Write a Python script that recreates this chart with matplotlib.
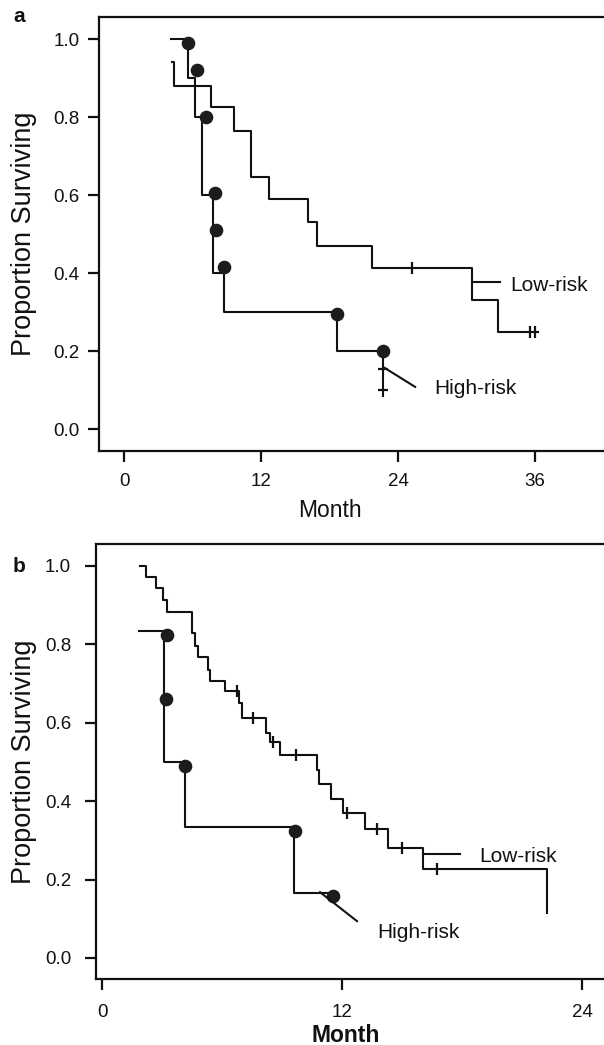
import matplotlib
matplotlib.use("Agg")
import matplotlib.pyplot as plt
from matplotlib.transforms import blended_transform_factory

plt.rcParams['font.family'] = ['Liberation Sans', 'DejaVu Sans']

# ---------------- Panel a data ----------------
low_a_t = [4.2, 4.4, 7.6, 9.6, 11.1, 12.7, 16.1, 16.9, 21.7, 30.5, 32.8, 36.3]
low_a_s = [0.94, 0.88, 0.825, 0.765, 0.647, 0.59, 0.53, 0.47, 0.413, 0.33, 0.25, 0.25]
low_a_cens_t = [25.2, 35.6, 36.0]
low_a_cens_s = [0.413, 0.25, 0.25]

high_a_t = [4.1, 5.6, 6.2, 6.8, 7.8, 8.8, 18.7, 22.7, 22.7]
high_a_s = [1.0, 0.9, 0.8, 0.6, 0.4, 0.3, 0.2, 0.2, 0.085]
high_a_dot_t = [5.6, 6.4, 7.2, 8.0, 8.1, 8.8, 18.7, 22.7]
high_a_dot_s = [0.99, 0.92, 0.80, 0.605, 0.51, 0.415, 0.295, 0.20]
high_a_cens_t = [22.7, 22.7]
high_a_cens_s = [0.155, 0.10]

# ---------------- Panel b data ----------------
low_b_t = [1.9, 2.2, 2.7, 3.05, 3.25, 4.5, 4.65, 4.8, 5.3, 5.4, 6.15, 6.85, 7.0,
           8.2, 8.4, 8.9, 10.75, 10.85, 11.45, 12.05, 13.15, 14.3, 16.05, 22.25, 22.25]
low_b_s = [1.0, 0.972, 0.944, 0.913, 0.883, 0.83, 0.797, 0.768, 0.735, 0.707, 0.68, 0.65, 0.612,
           0.575, 0.551, 0.518, 0.48, 0.444, 0.406, 0.37, 0.329, 0.28, 0.227, 0.227, 0.115]
low_b_cens_t = [6.75, 7.55, 8.55, 9.7, 12.25, 13.75, 15.0, 16.75]
low_b_cens_s = [0.68, 0.612, 0.551, 0.518, 0.37, 0.329, 0.28, 0.227]

high_b_t = [1.85, 3.1, 4.15, 9.6, 11.4]
high_b_s = [0.833, 0.5, 0.333, 0.167, 0.167]
high_b_dot_t = [3.25, 3.2, 4.15, 9.65, 11.55]
high_b_dot_s = [0.825, 0.66, 0.49, 0.325, 0.158]

yticks = [0.0, 0.2, 0.4, 0.6, 0.8, 1.0]
ytick_labels = ["0.0", "0.2", "0.4", "0.6", "0.8", "1.0"]
xticks_a = [0, 12, 24, 36]
xticks_b = [0, 12, 24]

W, H = 604, 1045
fig = plt.figure(figsize=(W / 100, H / 100), dpi=100)

INK = '#111111'

def px_axes(left, top, right, bottom):
    return [left / W, 1 - bottom / H, (right - left) / W, (bottom - top) / H]

def style(ax, xticks, ypad, xpad):
    for sp in ax.spines.values():
        sp.set_linewidth(1.6)
        sp.set_color(INK)
    ax.set_yticks(yticks)
    ax.set_yticklabels(ytick_labels)
    ax.set_xticks(xticks)
    ax.set_xticklabels([str(v) for v in xticks])
    ax.tick_params(axis='both', direction='out', length=8, width=1.6,
                   labelsize=13.5, colors=INK)
    ax.tick_params(axis='y', pad=ypad)
    ax.tick_params(axis='x', pad=xpad)

line_kw = dict(color=INK, lw=1.5)
dot_kw = dict(ls='none', marker='o', ms=8.8, color='#1c1c1c')
cens_kw = dict(ls='none', marker='|', ms=8, mew=1.6, color=INK)
hcens_kw = dict(ls='none', marker='_', ms=7, mew=1.6, color=INK)

# ---------------- Panel a ----------------
axa = fig.add_axes(px_axes(99, 17, 612, 451))
axa.set_xlim(-2.19, (612 - 124) * 12 / 137)
axa.set_ylim((429 - 451) / 390, (429 - 17) / 390)
axa.step(low_a_t, low_a_s, where='post', **line_kw)
axa.plot(low_a_cens_t, low_a_cens_s, **cens_kw)
axa.step(high_a_t, high_a_s, where='post', **line_kw)
axa.plot(high_a_dot_t, high_a_dot_s, **dot_kw)
axa.plot(high_a_cens_t, high_a_cens_s, **hcens_kw)
# label pointers
axa.plot([30.5, 32.9], [0.377, 0.377], **line_kw)
axa.plot([22.7, 25.5], [0.159, 0.108], **line_kw)
axa.text(33.8, 0.369, "Low-risk", fontsize=15, ha='left', va='center', color=INK)
axa.text(27.2, 0.105, "High-risk", fontsize=15, ha='left', va='center', color=INK)
style(axa, xticks_a, ypad=6, xpad=8)
axa.set_xlabel("Month", fontsize=16.5, color=INK)
axa.xaxis.set_label_coords(18.0, -0.110,
                           transform=blended_transform_factory(axa.transData, axa.transAxes))
axa.set_ylabel("Proportion Surviving", fontsize=19.5, color=INK)
axa.yaxis.set_label_coords(-0.121, 0.5)
fig.text(13 / W, 1 - 17 / H, "a", fontsize=15, fontweight='bold', ha='left', va='center', color=INK)

# ---------------- Panel b ----------------
axb = fig.add_axes(px_axes(96, 544, 612, 979))
axb.set_xlim((96 - 102) / 20, (612 - 102) / 20)
axb.set_ylim((958 - 979) / 392, (958 - 544) / 392)
axb.step(low_b_t, low_b_s, where='post', **line_kw)
axb.plot(low_b_cens_t, low_b_cens_s, **cens_kw)
axb.step(high_b_t, high_b_s, where='post', **line_kw)
axb.plot(high_b_dot_t, high_b_dot_s, **dot_kw)
axb.plot([16.05, 17.9], [0.265, 0.265], **line_kw)
axb.plot([10.9, 12.75], [0.168, 0.094], **line_kw)
axb.text(18.85, 0.258, "Low-risk", fontsize=15, ha='left', va='center', color=INK)
axb.text(13.75, 0.064, "High-risk", fontsize=15, ha='left', va='center', color=INK)
style(axb, xticks_b, ypad=10, xpad=10)
axb.set_xlabel("Month", fontsize=16.5, fontweight='bold', color=INK)
axb.xaxis.set_label_coords(12.2, -0.103,
                           transform=blended_transform_factory(axb.transData, axb.transAxes))
axb.set_ylabel("Proportion Surviving", fontsize=19.5, color=INK)
axb.yaxis.set_label_coords(-0.114, 0.5)
fig.text(13 / W, 1 - 566 / H, "b", fontsize=15, fontweight='bold', ha='left', va='center', color=INK)

fig.savefig("out.png", dpi=100)
